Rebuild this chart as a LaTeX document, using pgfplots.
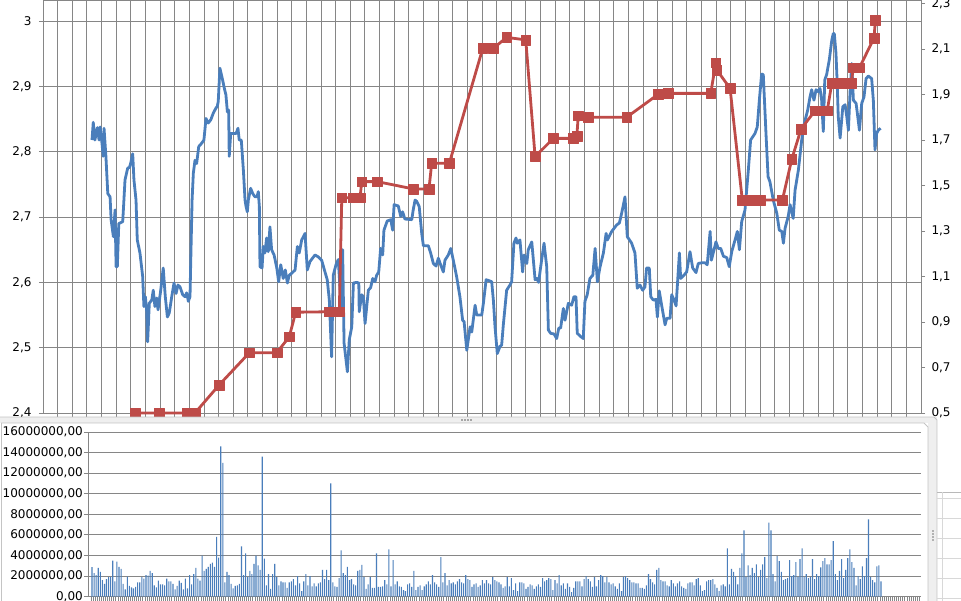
\documentclass[border=0pt]{standalone}
\usepackage{pgfplots}
\pgfplotsset{compat=1.18}
\usepackage{fontspec}
\setmainfont{DejaVu Sans}
\definecolor{exblue}{HTML}{4A7EBB}
\definecolor{exred}{HTML}{BE4B48}
\definecolor{exgrid}{HTML}{868686}
\definecolor{frameline}{HTML}{C4C4C4}
\definecolor{framefill}{HTML}{EFEFEF}
\definecolor{cellline}{HTML}{D8D8D8}

\pgfplotsset{
  xl/.style={scale only axis, axis line style={exgrid, line width=0.9pt},
    tick style={exgrid, line width=0.9pt}, tick align=outside, major tick length=4pt,
    ticklabel style={font=\fontsize{12}{14}\selectfont, text=black},
    /pgf/number format/assume math mode=true},
}

\begin{document}
\begin{tikzpicture}
\useasboundingbox (0pt,0pt) rectangle (961pt,601pt);
\clip (0pt,0pt) rectangle (961pt,601pt);

% upper chart, left axis (price)
\begin{axis}[xl,
  at={(43pt,188pt)}, anchor=south west, width=878pt, height=413pt,
  xmin=-23.6, xmax=399.26, ymin=2.4, ymax=3.0324,
  xtick={-16.5524,-9.5048,...,393}, xticklabels={}, xtick pos=bottom,
  ytick={2.4,2.5,2.6,2.7,2.8,2.9,3}, ytick pos=left,
  grid=major, major grid style={exgrid, line width=0.9pt},
  /pgf/number format/fixed, /pgf/number format/use comma,
  yticklabel style={xshift=-4pt},
]
\addplot[exblue, line width=2.8pt, line join=round] coordinates {
(0,2.818) (0.6,2.845) (1.4,2.818) (2.6,2.837) (3.4,2.818) (3.9,2.838) (4.8,2.813)
(5.4,2.793) (5.8,2.836) (6.7,2.793) (7.6,2.736) (8.7,2.731) (9.2,2.696) (10.3,2.67)
(11.1,2.711) (11.6,2.624) (12.2,2.624) (12.9,2.69) (14.8,2.693) (15.9,2.757) (17.2,2.775)
(18.0,2.776) (18.6,2.782) (19.6,2.797) (20.2,2.757) (21.2,2.726) (21.8,2.665) (23.1,2.645)
(24.4,2.609) (25.0,2.563) (25.7,2.578) (26.3,2.558) (26.8,2.509) (27.6,2.568) (28.8,2.573)
(29.5,2.588) (30.3,2.563) (31.2,2.576) (31.8,2.558) (33.1,2.588) (34.3,2.622) (35.3,2.578)
(36.3,2.547) (37.2,2.553) (38.4,2.578) (39.5,2.599) (40.5,2.583) (41.4,2.596) (42.4,2.593)
(43.7,2.581) (44.8,2.578) (45.6,2.584) (46.4,2.571) (47.2,2.578) (47.5,2.624) (48.2,2.726)
(48.8,2.767) (49.6,2.787) (50.4,2.782) (51.4,2.808) (52.8,2.813) (53.9,2.818) (54.9,2.851)
(56.0,2.844) (57.2,2.849) (58.4,2.859) (59.7,2.867) (60.3,2.869) (60.8,2.877) (61.6,2.928)
(62.9,2.91) (63.6,2.899) (64.5,2.887) (65.2,2.861) (65.8,2.864) (66.1,2.793) (66.8,2.828)
(68.1,2.828) (69.4,2.828) (70.3,2.836) (70.9,2.818) (71.9,2.818) (72.9,2.772) (73.7,2.726)
(74.2,2.716) (74.8,2.708) (75.3,2.726) (76.4,2.744) (77.4,2.736) (78.5,2.731) (79.5,2.731)
(80.1,2.739) (80.6,2.716) (80.9,2.624) (81.9,2.622) (82.5,2.655) (83.3,2.645) (84.1,2.668)
(84.9,2.647) (85.7,2.685) (86.5,2.65) (87.7,2.642) (89.0,2.622) (89.9,2.601) (90.9,2.627)
(92.1,2.606) (93.1,2.619) (94.1,2.599) (95.0,2.611) (96.2,2.614) (97.8,2.619) (98.9,2.655)
(99.8,2.645) (101.0,2.665) (102.6,2.675) (103.7,2.619) (105.0,2.632) (107.4,2.642)
(109.0,2.639) (110.6,2.634) (112.2,2.616) (113.3,2.604) (114.3,2.573) (115.4,2.486)
(116.2,2.611) (117.5,2.627) (118.6,2.635) (119.4,2.594) (120.3,2.55) (120.7,2.65)
(121.4,2.507) (123.0,2.463) (123.9,2.512) (125.1,2.532) (125.9,2.599) (127.5,2.6)
(128.5,2.599) (128.7,2.555) (129.9,2.581) (130.7,2.578) (131.5,2.537) (133.1,2.588)
(134.2,2.592) (135.2,2.606) (136.3,2.601) (137.1,2.611) (138.1,2.616) (139.0,2.652)
(140.0,2.642) (140.6,2.68) (142.2,2.694) (143.9,2.696) (144.8,2.68) (145.5,2.719)
(147.5,2.717) (148.7,2.701) (149.6,2.708) (150.7,2.697) (154.0,2.696) (154.7,2.711)
(155.6,2.726) (156.4,2.724) (157.6,2.716) (158.8,2.675) (159.6,2.656) (162.0,2.656)
(163.1,2.645) (164.4,2.629) (165.7,2.625) (166.8,2.637) (167.9,2.627) (169.2,2.616)
(170.0,2.634) (171.6,2.642) (172.8,2.652) (174.0,2.634) (175.6,2.609) (177.2,2.578)
(178.5,2.542) (179.2,2.54) (180.5,2.496) (182.1,2.532) (182.9,2.524) (184.5,2.565)
(185.3,2.55) (187.7,2.55) (188.5,2.568) (189.8,2.604) (190.9,2.603) (192.5,2.601)
(193.3,2.573) (194.1,2.532) (195.2,2.491) (196.5,2.502) (197.3,2.504) (198.1,2.535)
(199.7,2.588) (201.3,2.596) (202.1,2.601) (203.2,2.66) (204.2,2.668) (204.8,2.66)
(206.1,2.665) (207.4,2.616) (208.1,2.642) (209.4,2.629) (210.1,2.65) (211.8,2.662)
(213.4,2.604) (214.2,2.606) (215.1,2.6) (216.1,2.624) (217.7,2.66) (219.0,2.624)
(219.8,2.527) (220.9,2.522) (222.5,2.521) (223.8,2.514) (224.8,2.53) (225.7,2.53)
(227.0,2.56) (227.8,2.542) (229.4,2.568) (231.0,2.565) (232.1,2.578) (233.1,2.578)
(233.7,2.522) (235.4,2.517) (236.6,2.514) (237.4,2.571) (238.5,2.581) (239.8,2.606)
(241.2,2.611) (242.3,2.652) (243.4,2.601) (244.7,2.624) (246.3,2.645) (247.6,2.675)
(248.2,2.665) (250.3,2.678) (252.7,2.688) (254.0,2.691) (255.1,2.706) (256.7,2.731)
(257.8,2.67) (259.9,2.66) (261.5,2.645) (262.6,2.591) (263.9,2.596) (265.2,2.588)
(266.3,2.593) (267.1,2.622) (268.4,2.622) (269.1,2.578) (270.3,2.573) (271.6,2.574)
(272.3,2.547) (273.2,2.587) (274.4,2.564) (276.0,2.535) (276.8,2.545) (278.4,2.545)
(279.2,2.581) (280.3,2.573) (281.3,2.564) (282.9,2.645) (283.5,2.606) (285.1,2.611)
(286.4,2.616) (288.0,2.647) (289.3,2.622) (290.9,2.615) (292.0,2.629) (293.7,2.63)
(295.3,2.63) (296.3,2.627) (297.7,2.678) (298.3,2.634) (299.6,2.65) (300.5,2.662)
(301.6,2.652) (302.8,2.652) (304.1,2.64) (305.7,2.638) (306.9,2.624) (308.1,2.647)
(309.7,2.665) (310.8,2.678) (311.8,2.65) (312.9,2.693) (314.5,2.711) (316.1,2.772)
(317.2,2.818) (319.3,2.828) (320.4,2.838) (321.4,2.879) (322.5,2.919) (323.3,2.918)
(324.6,2.828) (325.6,2.762) (326.5,2.754) (328.1,2.726) (329.8,2.706) (331.0,2.68)
(332.2,2.678) (333.0,2.66) (333.8,2.683) (335.3,2.701) (336.2,2.719) (337.0,2.708)
(337.7,2.698) (338.6,2.741) (340.2,2.772) (341.8,2.818) (343.1,2.844) (344.7,2.864)
(345.8,2.884) (346.6,2.895) (347.7,2.879) (348.7,2.895) (349.8,2.892) (350.6,2.897)
(351.4,2.879) (352.2,2.831) (352.9,2.91) (353.8,2.918) (355.1,2.941) (356.3,2.971)
(357.0,2.981) (357.5,2.981) (358.3,2.951) (358.9,2.905) (359.4,2.854) (360.3,2.821)
(361.6,2.869) (362.7,2.872) (363.5,2.854) (364.3,2.833) (365.1,2.892) (365.9,2.935)
(366.7,2.879) (368.0,2.874) (368.6,2.859) (369.6,2.833) (370.7,2.874) (371.8,2.884)
(372.8,2.912) (373.9,2.916) (375.5,2.912) (376.3,2.879) (377.1,2.803) (377.9,2.828)
(378.7,2.833) (379.8,2.836)
};
\end{axis}

% upper chart, right axis
\begin{axis}[xl,
  at={(43pt,188pt)}, anchor=south west, width=878pt, height=413pt,
  xmin=-23.6, xmax=399.26, ymin=0.5, ymax=2.3154,
  axis x line=none, axis y line*=right, clip=false,
  ytick={0.5,0.7,0.9,1.1,1.3,1.5,1.7,1.9,2.1,2.3},
  /pgf/number format/fixed, /pgf/number format/fixed zerofill,
  /pgf/number format/precision=1, /pgf/number format/use comma,
  yticklabel style={xshift=3pt},
]
\addplot[exred, line width=2.8pt, line join=round, mark=square*,
  mark size=4.9pt, mark options={solid, fill=exred, draw=exred, line width=0.4pt}] coordinates {
(20.7,0.5) (32.3,0.5) (45.9,0.5) (49.6,0.5) (61.2,0.623) (75.8,0.765) (89.0,0.765)
(95.0,0.835) (98.1,0.943) (114.3,0.945) (119.1,0.945) (120.3,1.446) (125.8,1.446)
(129.1,1.446) (129.9,1.517) (137.4,1.517) (154.7,1.485) (162.3,1.485) (163.6,1.598)
(172.1,1.598) (188.2,2.103) (193.3,2.103) (199.7,2.151) (208.9,2.14) (213.4,1.627)
(222.2,1.707) (231.8,1.707) (233.5,1.718) (234.2,1.807) (239.0,1.80) (257.5,1.80)
(272.7,1.901) (277.6,1.905) (298.0,1.905) (300.4,2.04) (300.9,2.008) (307.3,1.927)
(313.2,1.436) (317.4,1.436) (321.7,1.436) (332.5,1.436) (337.0,1.615) (341.5,1.748)
(348.2,1.829) (351.1,1.829) (354.1,1.829) (356.3,1.949) (358.3,1.949) (360.3,1.949)
(363.2,1.949) (365.6,1.949) (366.7,2.018) (369.6,2.018) (376.6,2.147) (377.3,2.227)
};
\end{axis}

% frame of the lower chart object, and sheet cells beside it
\fill[white] (0pt,0pt) rectangle (937pt,184pt);
\fill[framefill] (0pt,178pt) rectangle (934pt,184pt);
\fill[framefill] (928pt,0pt) rectangle (937pt,184pt);
\draw[frameline, line width=0.8pt] (0pt,184pt) -- (934pt,184pt) -- (937pt,181pt) -- (937pt,0pt);
\draw[frameline, line width=0.8pt] (1.5pt,0pt) -- (1.5pt,178pt) -- (924pt,178pt) -- (928pt,174pt) -- (928pt,0pt);
\foreach \dx in {0,3,6,9} \fill[gray!70] (461pt+\dx pt,180pt) rectangle (462.5pt+\dx pt,182pt);
\foreach \dy in {0,3,6,9} \fill[gray!60] (931.5pt,60pt+\dy pt) rectangle (933.5pt,61.5pt+\dy pt);
\foreach \yy in {103,83,63,43,23,3} \draw[cellline, line width=0.8pt] (937pt,\yy pt) -- (961pt,\yy pt);
\draw[gray!55, line width=0.9pt] (937pt,109pt) -- (961pt,109pt);
\draw[cellline, line width=0.8pt] (942pt,0pt) -- (942pt,109pt);

% lower chart: volume
\begin{axis}[xl,
  at={(88pt,4.3pt)}, anchor=south west, width=833pt, height=164.7pt,
  xmin=-1.93, xmax=399.27, ymin=0, ymax=16000000,
  axis x line*=bottom, axis y line*=left,
  xtick={-0.5,0.5,...,399.5}, xticklabels={},
  ytick={0,2000000,4000000,6000000,8000000,10000000,12000000,14000000,16000000},
  scaled y ticks=false, ymajorgrids, major grid style={exgrid, line width=0.9pt},
  /pgf/number format/fixed, /pgf/number format/fixed zerofill,
  /pgf/number format/precision=2, /pgf/number format/use comma,
  /pgf/number format/1000 sep={},
  yticklabel style={inner sep=1pt},
  ybar, bar width=1.1pt,
]
\addplot[fill=exblue, draw=none] table[row sep=\\, header=false, x expr=\coordindex, y expr=\thisrowno{0}*1000000] {
2.87\\2.3\\2.1\\2.8\\2.4\\1.6\\1.25\\1.7\\1.9\\1.9\\3.5\\1.5\\3.4\\2.9\\2.7\\1.25\\0.7\\1.95\\1.05\\0.9\\
0.8\\0.95\\1.4\\1.4\\1.9\\1.75\\2.1\\2.05\\2.5\\2.3\\1.1\\0.9\\1.55\\1.2\\1.2\\1.1\\1.75\\1.5\\1.5\\1.25\\
0.7\\1.05\\1.55\\1.35\\0.7\\1.75\\0.8\\2.1\\1.2\\2.2\\2.8\\1.75\\1.55\\4.0\\2.5\\2.7\\2.9\\3.2\\3.3\\2.9\\
5.8\\3.8\\14.6\\13.0\\1.4\\2.4\\2.1\\1.25\\0.8\\1.05\\1.1\\1.25\\4.9\\2.1\\4.2\\1.9\\2.5\\2.2\\3.2\\4.0\\
3.05\\2.6\\13.6\\3.7\\1.1\\2.2\\0.75\\2.2\\3.2\\1.9\\1.1\\1.5\\1.4\\1.4\\0.85\\1.4\\1.5\\1.7\\1.1\\2.0\\
1.3\\0.55\\1.5\\2.2\\1.1\\2.0\\1.0\\1.3\\1.0\\1.3\\1.4\\2.6\\1.7\\2.6\\1.6\\11.0\\1.4\\1.0\\0.95\\1.8\\
4.5\\2.3\\2.1\\2.9\\1.6\\1.7\\1.2\\1.1\\2.5\\2.6\\3.1\\1.9\\0.75\\1.2\\1.9\\0.85\\0.85\\4.2\\0.95\\0.95\\
1.0\\1.6\\1.2\\4.6\\1.0\\3.55\\1.2\\1.5\\1.0\\0.95\\0.65\\0.55\\1.2\\1.3\\0.95\\2.5\\0.65\\0.95\\1.1\\0.65\\
1.0\\1.2\\1.5\\1.2\\2.1\\1.4\\1.2\\0.95\\3.85\\1.4\\2.3\\1.1\\1.6\\1.3\\1.4\\1.2\\1.5\\1.7\\1.4\\1.3\\
2.1\\1.7\\1.6\\0.95\\1.2\\1.3\\0.95\\1.1\\1.6\\1.3\\1.6\\1.3\\1.2\\1.9\\1.6\\1.5\\1.4\\1.2\\0.85\\1.0\\
1.9\\1.0\\1.8\\0.65\\1.3\\0.55\\1.4\\1.4\\1.3\\0.75\\0.95\\1.2\\1.1\\0.75\\1.0\\1.2\\0.95\\1.8\\1.5\\1.6\\
1.8\\1.7\\0.65\\1.6\\1.3\\2.1\\1.1\\1.3\\0.75\\1.3\\0.95\\0.45\\0.85\\1.5\\1.5\\1.5\\1.0\\1.7\\2.0\\1.7\\
1.5\\0.95\\1.9\\1.0\\1.6\\2.1\\2.0\\1.4\\1.9\\1.4\\1.2\\1.3\\1.0\\0.75\\1.3\\0.55\\1.9\\2.0\\1.8\\1.6\\
1.4\\1.4\\1.3\\1.3\\0.85\\0.85\\0.75\\1.1\\2.2\\1.7\\1.4\\1.2\\2.6\\2.8\\1.6\\1.5\\1.5\\1.1\\1.0\\1.6\\
1.3\\1.0\\1.3\\1.5\\1.0\\0.85\\0.75\\1.3\\1.4\\1.4\\1.1\\1.7\\1.8\\1.1\\0.55\\0.65\\1.5\\1.6\\1.6\\1.7\\
1.2\\0.85\\0.55\\1.1\\1.2\\1.0\\4.7\\1.2\\2.7\\2.4\\2.0\\1.2\\2.8\\4.2\\6.45\\1.9\\3.05\\2.1\\2.8\\2.3\\
3.15\\1.9\\2.6\\3.15\\3.85\\1.8\\7.2\\6.45\\2.2\\1.5\\3.95\\3.45\\2.4\\1.6\\1.7\\1.8\\3.55\\2.0\\2.1\\3.35\\
1.9\\3.65\\4.7\\1.9\\2.2\\1.8\\1.9\\3.65\\1.7\\2.2\\2.0\\2.85\\3.45\\3.75\\3.15\\3.15\\3.55\\5.4\\2.2\\1.6\\
2.5\\3.65\\1.8\\2.6\\3.75\\4.6\\3.35\\2.8\\1.1\\2.0\\1.7\\2.95\\2.0\\3.75\\7.5\\1.9\\1.6\\1.4\\2.95\\3.05\\
1.5\\
};
\end{axis}
\end{tikzpicture}
\end{document}
